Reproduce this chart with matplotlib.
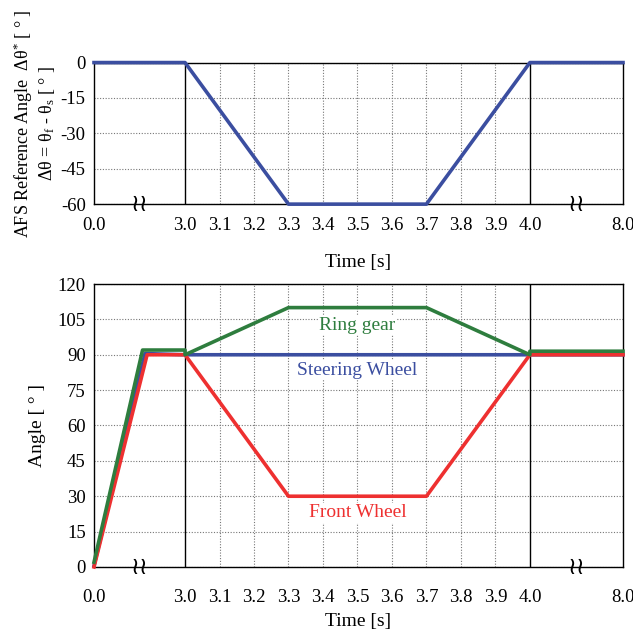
import numpy as np
import matplotlib
matplotlib.use("Agg")
import matplotlib.pyplot as plt

plt.rcParams.update({"font.family": "Liberation Serif", "mathtext.fontset": "custom",
                     "mathtext.rm": "Liberation Serif", "mathtext.it": "Liberation Serif",
                     "font.size": 13, "axes.unicode_minus": False})

# broken time axis: 0-3 and 4-8 squeezed, 3-4 stretched
T_BREAKS = [0.0, 3.0, 4.0, 8.0]
U_BREAKS = [0.0, 0.264, 1.264, 1.534]
def fwd(t):
    return np.interp(t, T_BREAKS, U_BREAKS)
def inv(u):
    return np.interp(u, U_BREAKS, T_BREAKS)

xticks = [0.0, 3.0, 3.1, 3.2, 3.3, 3.4, 3.5, 3.6, 3.7, 3.8, 3.9, 4.0, 8.0]
xgrid = [3.1, 3.2, 3.3, 3.4, 3.5, 3.6, 3.7, 3.8, 3.9]

# top: AFS reference angle
t_ref = [0.0, 3.0, 3.3, 3.7, 4.0, 8.0]
d_ref = [0, 0, -60, -60, 0, 0]

# bottom: angles
t_sw = [0.0, 1.68, 3.0, 4.0, 8.0]
steer = [0.5, 90.5, 90, 90, 90]
t_fw = [0.0, 1.75, 3.0, 3.3, 3.7, 4.0, 8.0]
front = [0, 90, 90, 30, 30, 90, 90]
t_rg = [0.0, 1.6, 3.0, 3.0, 3.3, 3.7, 4.0, 4.0, 8.0]
ring = [2, 92, 92, 90, 110, 110, 90, 91.5, 91.5]

BLUE, RED, GREEN = "#3b4ea0", "#ee3030", "#2e7d3e"

fig = plt.figure(figsize=(6.33, 6.32), dpi=100)
ax1 = fig.add_axes([0.1485, 0.677, 0.8357, 0.224])
ax2 = fig.add_axes([0.1485, 0.1029, 0.8357, 0.4477])


def frame(ax, ylim, yticks, pad, lpad):
    ax.set_xscale("function", functions=(fwd, inv))
    ax.set_xlim(0, 8)
    ax.set_ylim(*ylim)
    ax.set_xticks(xticks)
    ax.set_xticklabels(["%.1f" % v for v in xticks])
    ax.set_yticks(yticks)
    ax.tick_params(length=0, labelsize=13.5)
    ax.tick_params(axis="x", pad=pad)
    ax.tick_params(axis="y", pad=6)
    for y in yticks:
        ax.axhline(y, color="#777", lw=0.8, ls=(0, (1, 1.5)), zorder=1)
    for x in xgrid:
        ax.axvline(x, color="#777", lw=0.8, ls=(0, (1, 1.5)), zorder=1)
    ax.axvline(3.0, color="black", lw=1.0, zorder=1)
    ax.axvline(4.0, color="black", lw=1.0, zorder=1)
    for s in ax.spines.values():
        s.set_linewidth(1.0)
    for xb in (1.5, 6.0):
        ax.text(xb, ylim[0], "≀≀", ha="center", va="center", fontsize=17,
                family="DejaVu Sans", clip_on=False)
    ax.set_xlabel("Time [s]", fontsize=14, labelpad=lpad)


frame(ax1, (-60, 0), [0, -15, -30, -45, -60], 9, 15)
ax1.plot(t_ref, d_ref, color=BLUE, lw=2.6, clip_on=False, zorder=3)
ax1.set_ylabel("AFS Reference Angle  Δθ$^{*}$ [ ° ]\n"
               "Δθ = θ$_{\\mathrm{f}}$ - θ$_{\\mathrm{s}}$ [ ° ]", fontsize=13,
               linespacing=1.15)
ax1.yaxis.set_label_coords(-0.070, 0.57)

frame(ax2, (0, 120), [0, 15, 30, 45, 60, 75, 90, 105, 120], 16, 5)
ax2.plot(t_sw, steer, color=BLUE, lw=2.6, clip_on=False, zorder=3)
ax2.plot(t_fw, front, color=RED, lw=2.6, clip_on=False, zorder=4)
ax2.plot(t_rg, ring, color=GREEN, lw=2.6, clip_on=False, zorder=5)
ax2.set_ylabel("Angle [ ° ]", fontsize=14, labelpad=8)
ax2.text(3.5, 102.5, "Ring gear", color=GREEN, ha="center", va="center",
         fontsize=14, bbox=dict(fc="white", ec="none", pad=1), zorder=2)
ax2.text(3.5, 83.5, "Steering Wheel", color=BLUE, ha="center", va="center",
         fontsize=14, bbox=dict(fc="white", ec="none", pad=1), zorder=2)
ax2.text(3.5, 23, "Front Wheel", color=RED, ha="center", va="center",
         fontsize=14, bbox=dict(fc="white", ec="none", pad=1), zorder=2)

fig.savefig("out.png", dpi=100)
